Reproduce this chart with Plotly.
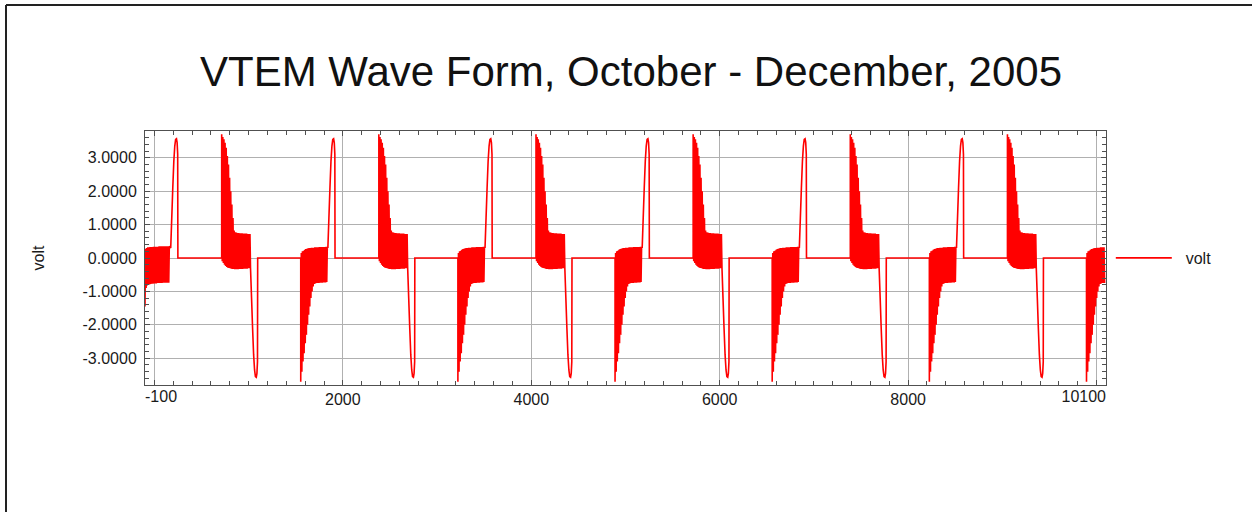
import plotly.graph_objects as go

# ---------------- data ----------------
PERIOD = 1668            # samples per full transmitter cycle
HALF = 6                 # spacing between a ripple high and the following low
PITCH = 12               # ripple period
cycle_starts = [714, 2382, 4050, 5718, 7386, 9054]   # positive off-time spike times
x_first, x_last = -100, 10090

# ripple at the very start of the record (starting at x=-100)
lead_lo = [-1.45, -0.90, -0.82, -0.80, -0.79, -0.78, -0.77, -0.77, -0.76, -0.76,
           -0.76, -0.75, -0.75, -0.75, -0.75, -0.75, -0.74, -0.74, -0.74, -0.74,
           -0.74, -0.74]
lead_hi = [0.28, 0.30, 0.32, 0.32, 0.33, 0.33, 0.33, 0.34, 0.34, 0.34,
           0.34, 0.34, 0.35, 0.35, 0.35, 0.35, 0.35, 0.35, 0.35, 0.35,
           0.35, 0.35]

# positive spike + decaying ripple (envelopes, one value per ripple period)
pos_hi = [3.70, 3.62, 3.55, 3.45, 3.30, 3.05, 2.80, 2.40, 2.00, 1.60,
          1.20, 0.82, 0.77, 0.76, 0.75, 0.75, 0.74, 0.74, 0.74, 0.73,
          0.73, 0.73, 0.73, 0.72, 0.72, 0.72]
pos_lo = [-0.10, -0.15, -0.20, -0.24, -0.27, -0.29, -0.30, -0.31, -0.32, -0.33,
          -0.33, -0.34, -0.34, -0.34, -0.34, -0.33, -0.33, -0.33, -0.33, -0.32,
          -0.32, -0.32, -0.32, -0.31, -0.31, -0.30]

# negative half-sine pulse (offset from cycle start, value)
neg_pulse_t = [306, 317, 328, 339, 349, 358, 367, 374, 380, 382]
neg_pulse_v = [-0.30, -1.20, -2.10, -2.90, -3.35, -3.55, -3.57, -3.45, -3.10, 0.00]

neg_spike_t = 839
# negative spike + decaying ripple (envelopes, one value per ripple period)
neg_lo = [-3.70, -3.40, -3.10, -2.85, -2.55, -2.30, -2.00, -1.70, -1.45, -1.20,
          -1.00, -0.85, -0.78, -0.76, -0.75, -0.75, -0.75, -0.74, -0.74, -0.74,
          -0.73, -0.73, -0.73, -0.72]
neg_hi = [0.15, 0.20, 0.22, 0.25, 0.27, 0.28, 0.29, 0.30, 0.30, 0.31,
          0.31, 0.31, 0.32, 0.32, 0.32, 0.32, 0.33, 0.33, 0.33, 0.33,
          0.33, 0.33, 0.34, 0.34]

# positive half-sine pulse (offset from cycle start, value)
pos_pulse_t = [1127, 1138, 1149, 1160, 1170, 1179, 1188, 1195, 1201, 1203]
pos_pulse_v = [0.30, 1.20, 2.10, 2.90, 3.35, 3.55, 3.57, 3.45, 3.10, 0.00]

x_major = [0, 2000, 4000, 6000, 8000, 10000]
x_major_text = ["", "2000", "4000", "6000", "8000", ""]
y_ticks = [-3, -2, -1, 0, 1, 2, 3]
y_tick_text = ["-3.0000", "-2.0000", "-1.0000", "0.0000", "1.0000", "2.0000", "3.0000"]

# ---------------- build the series ----------------
xs, ys = [], []


def add_ripple(t0, first, second):
    for i, (a, b) in enumerate(zip(first, second)):
        xs.append(t0 + PITCH * i); ys.append(a)
        xs.append(t0 + PITCH * i + HALF); ys.append(b)


def add_pulse(t0, ts, vs):
    for t, v in zip(ts, vs):
        xs.append(t0 + t); ys.append(v)


add_ripple(x_first, lead_lo, lead_hi)
add_pulse(cycle_starts[0] - PERIOD, pos_pulse_t, pos_pulse_v)
for c in cycle_starts:
    xs.append(c); ys.append(0.0)
    add_ripple(c, pos_hi, pos_lo)
    add_pulse(c, neg_pulse_t, neg_pulse_v)
    xs.append(c + neg_spike_t); ys.append(0.0)
    add_ripple(c + neg_spike_t, neg_lo, neg_hi)
    add_pulse(c, pos_pulse_t, pos_pulse_v)

pts = [(x, y) for x, y in zip(xs, ys) if x <= x_last]
xs = [p[0] for p in pts]
ys = [p[1] for p in pts]

# ---------------- figure ----------------
FONT = "Liberation Sans, Arial, Helvetica, sans-serif"
TXT = "#1a1a1a"
fig = go.Figure()
fig.add_trace(go.Scatter(x=xs, y=ys, mode="lines", name="\u00a0\u00a0volt",
                         line=dict(color="#ff0000", width=1.6, simplify=False)))

# edge labels of the x axis (range ends), aligned inward
fig.add_trace(go.Scatter(x=[x_first], y=[0], xaxis="x2", mode="markers",
                         marker=dict(opacity=0), showlegend=False, hoverinfo="skip"))
fig.add_trace(go.Scatter(x=[10100], y=[0], xaxis="x3", mode="markers",
                         marker=dict(opacity=0), showlegend=False, hoverinfo="skip"))

axis_common = dict(showline=True, linecolor="#505050", linewidth=1, mirror="ticks",
                   ticks="inside", ticklen=5, tickcolor="#505050",
                   showgrid=True, gridcolor="#b0b0b0", gridwidth=1, zeroline=False,
                   tickfont=dict(family=FONT, size=16, color=TXT))

fig.update_layout(
    width=1252, height=512,
    margin=dict(l=145, r=146, t=131, b=127),
    paper_bgcolor="white", plot_bgcolor="white",
    title=dict(text="VTEM Wave Form, October - December, 2005",
               font=dict(family=FONT, size=42, color="#111"),
               x=0.504, xanchor="center", xref="container",
               y=1 - 71 / 512, yanchor="middle", yref="container"),
    xaxis=dict(range=[x_first, 10100], tickvals=x_major, ticktext=x_major_text,
               minor=dict(dtick=200, tick0=0, ticks="inside", ticklen=4,
                          tickcolor="#505050", showgrid=False),
               **axis_common),
    xaxis2=dict(range=[x_first, 10100], overlaying="x", side="bottom", anchor="y",
                tickvals=[x_first], ticktext=["-100"], ticklabelposition="outside right",
                showgrid=False, showline=False, ticks="", zeroline=False,
                tickfont=dict(family=FONT, size=16, color=TXT)),
    xaxis3=dict(range=[x_first, 10100], overlaying="x", side="bottom", anchor="y",
                tickvals=[10100], ticktext=["10100"], ticklabelposition="outside left",
                showgrid=False, showline=False, ticks="", zeroline=False,
                tickfont=dict(family=FONT, size=16, color=TXT)),
    yaxis=dict(range=[-3.8, 3.8], tickvals=y_ticks, ticktext=y_tick_text,
               ticklabelstandoff=4,
               minor=dict(dtick=0.2, tick0=0, ticks="inside", ticklen=4,
                          tickcolor="#505050", showgrid=False),
               title=dict(text="volt", font=dict(family=FONT, size=16, color=TXT),
                          standoff=33),
               **axis_common),
    legend=dict(x=1.005, y=0.5, xanchor="left", yanchor="middle",
                font=dict(family=FONT, size=16, color=TXT),
                bgcolor="rgba(0,0,0,0)", itemwidth=56),
    shapes=[
        dict(type="line", xref="paper", yref="paper",
             x0=(6 - 145) / 961, x1=(6 - 145) / 961, y0=(385 - 5) / 254, y1=(385 - 515) / 254,
             line=dict(color="#222", width=2)),
        dict(type="line", xref="paper", yref="paper",
             x0=(6 - 145) / 961, x1=(1252 - 145) / 961, y0=(385 - 5) / 254, y1=(385 - 5) / 254,
             line=dict(color="#222", width=2)),
    ],
)

fig.write_html("out.html", config={"displayModeBar": False},
               post_script="document.body.style.margin='0';")
